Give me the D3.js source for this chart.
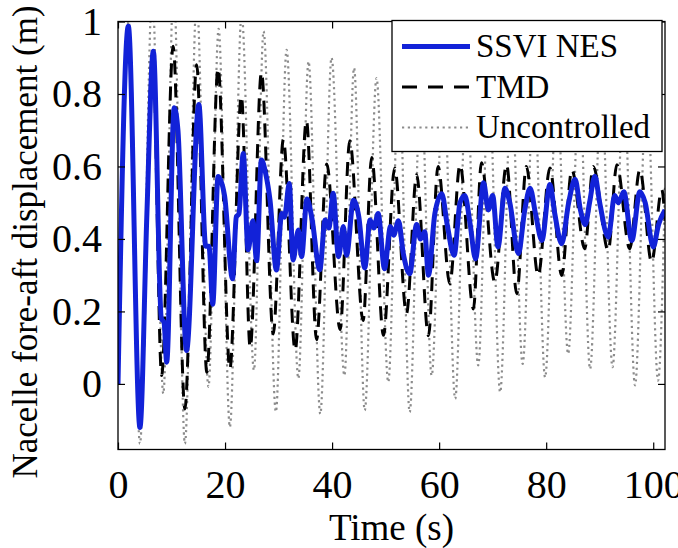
<!DOCTYPE html>
<html>
<head>
<meta charset="utf-8">
<script src="https://cdn.jsdelivr.net/npm/d3@7"></script>
<style>
  body { margin: 0; background: #fff; }
  svg { display: block; }
</style>
</head>
<body>
<div id="chart"></div>
<script>
// values: [time (s), displacement (m)]
const nesData = [
  [0, 0], [1.93, 0.987], [4.1, -0.12], [5.4, 0.47], [6.6, 0.918], [8.1, 0.18], [8.6, 0.17],
  [9.1, 0.06], [10.5, 0.762], [11.2, 0.70], [12.8, 0.092], [15.1, 0.771], [16.4, 0.38],
  [17.0, 0.38], [17.7, 0.22], [18.7, 0.572], [19.9, 0.52], [21.4, 0.29], [22.1, 0.46],
  [22.6, 0.47], [23.4, 0.636], [24.3, 0.37], [25.2, 0.45], [25.9, 0.34], [26.8, 0.618],
  [27.6, 0.58], [28.4, 0.507], [29.6, 0.314], [30.6, 0.47], [31.1, 0.46], [32.0, 0.553],
  [32.7, 0.342], [33.7, 0.425], [34.3, 0.351], [35.3, 0.51], [36.2, 0.46], [37.7, 0.315],
  [38.7, 0.452], [39.4, 0.43], [40.2, 0.526], [41.2, 0.351], [42.1, 0.434], [42.7, 0.355],
  [44.0, 0.507], [45.0, 0.46], [46.1, 0.32], [47.1, 0.452], [47.8, 0.43], [48.6, 0.47],
  [49.8, 0.318], [50.9, 0.434], [51.5, 0.41], [52.4, 0.45], [53.3, 0.36], [54.5, 0.304],
  [55.8, 0.44], [56.5, 0.40], [57.3, 0.42], [58.0, 0.30], [59.2, 0.47], [60.5, 0.525],
  [61.5, 0.44], [62.8, 0.355], [63.9, 0.50], [64.8, 0.52], [65.8, 0.44], [66.8, 0.345],
  [68.3, 0.555], [69.2, 0.48], [70.0, 0.52], [71.0, 0.378], [72.3, 0.54], [73.2, 0.50],
  [74.8, 0.36], [76.0, 0.48], [77.0, 0.54], [78.0, 0.47], [79.2, 0.396], [80.7, 0.55],
  [81.6, 0.47], [82.9, 0.387], [84.2, 0.50], [85.4, 0.565], [86.4, 0.48], [87.3, 0.44],
  [88.1, 0.50], [89.1, 0.573], [90.0, 0.50], [91.6, 0.405], [92.8, 0.52], [93.5, 0.50],
  [94.5, 0.53], [96.0, 0.396], [97.5, 0.53], [98.5, 0.50], [100.0, 0.378], [101.0, 0.44],
  [102.2, 0.48]
];

const tmdData = [
  [0, 0], [2.0, 0.98], [4.1, -0.11], [6.5, 0.92], [8.15, 0.023], [10.3, 0.932], [12.5, -0.069],
  [14.7, 0.881], [16.6, 0.032], [18.7, 0.872], [20.9, 0.041], [23.05, 0.795], [24.7, 0.1],
  [26.8, 0.86], [29.0, 0.138], [30.9, 0.675], [33.1, 0.092], [35.2, 0.727], [37.1, 0.122],
  [39.0, 0.607], [41.5, 0.15], [43.3, 0.671], [45.8, 0.175], [47.4, 0.625], [49.6, 0.134],
  [51.7, 0.596], [53.9, 0.194], [55.8, 0.577], [58.0, 0.133], [59.8, 0.6], [62.0, 0.276],
  [63.9, 0.605], [66.4, 0.207], [67.9, 0.61], [70.4, 0.281], [72.6, 0.605], [74.5, 0.249],
  [76.3, 0.6], [78.5, 0.299], [80.7, 0.596], [82.9, 0.299], [84.8, 0.591], [87.2, 0.373],
  [88.8, 0.6], [91.6, 0.368], [93.2, 0.605], [95.6, 0.373], [97.5, 0.591], [99.7, 0.336],
  [101.6, 0.536], [102.2, 0.45]
];

const uncData = [
  [0, 0], [2.0, 1.0], [4.1, -0.165], [6.4, 1.08], [8.46, -0.027], [10.4, 1.1], [12.5, -0.165],
  [14.7, 1.06], [16.9, -0.008], [18.8, 0.98], [20.9, -0.119], [23.1, 1.02], [25.4, 0.038],
  [27.2, 0.973], [29.5, -0.077], [31.5, 0.922], [33.7, 0.015], [35.6, 0.89], [37.8, -0.083],
  [39.9, 0.90], [42.3, 0.023], [44.1, 0.872], [46.1, -0.073], [48.3, 0.844], [50.5, 0.005],
  [52.5, 0.86], [54.5, -0.078], [56.6, 0.84], [58.6, 0.023], [60.8, 0.85], [63.0, -0.041],
  [65.1, 0.83], [67.3, 0.051], [69.3, 0.84], [71.4, -0.023], [73.5, 0.82], [75.6, 0.055],
  [77.7, 0.83], [79.8, 0.018], [82.0, 0.82], [84.1, 0.083], [86.2, 0.83], [88.2, 0.041],
  [90.3, 0.82], [92.4, 0.046], [94.5, 0.83], [96.6, -0.004], [98.8, 0.84], [100.9, 0.009],
  [102.2, 0.55]
];

const xTicks = [0, 20, 40, 60, 80, 100];
const yTicks = [0, 0.2, 0.4, 0.6, 0.8, 1];
const yTickLabels = ["0", "0.2", "0.4", "0.6", "0.8", "1"];
const seriesNames = ["SSVI NES", "TMD", "Uncontrolled"];

const W = 678, H = 548;
const margin = {top: 21.5, right: 13, bottom: 98.5, left: 118};
const width = W - margin.left - margin.right;
const height = H - margin.top - margin.bottom;
const serif = "'Liberation Serif', 'Times New Roman', serif";

const svg = d3.select("#chart").append("svg")
    .attr("width", W)
    .attr("height", H);

const g = svg.append("g")
    .attr("transform", "translate(" + margin.left + "," + margin.top + ")");

const x = d3.scaleLinear().domain([0, 102.2]).range([0, width]);
const y = d3.scaleLinear().domain([-0.181, 1]).range([height, 0]);

g.append("clipPath").attr("id", "plotclip")
  .append("rect").attr("width", width).attr("height", height);

const line = d3.line()
    .x(d => x(d[0]))
    .y(d => y(d[1]))
    .curve(d3.curveMonotoneX);

const styles = [
  {data: nesData, stroke: "#1222d8", width: 5, dash: null},
  {data: tmdData, stroke: "#000", width: 3, dash: "14,9"},
  {data: uncData, stroke: "#8c8c8c", width: 2.2, dash: "2.2,3.6"}
];

const plot = g.append("g").attr("clip-path", "url(#plotclip)");
plot.selectAll("path")
  .data(styles.slice().reverse())
  .join("path")
    .attr("fill", "none")
    .attr("stroke", d => d.stroke)
    .attr("stroke-width", d => d.width)
    .attr("stroke-dasharray", d => d.dash)
    .attr("stroke-linejoin", "round")
    .attr("d", d => line(d.data));

// axes, ticks pointing inwards (mirrored on top/right)
const axisStyle = sel => {
  sel.select(".domain").remove();
  sel.selectAll(".tick line").attr("stroke", "#000").attr("stroke-width", 1.2);
  sel.selectAll("text").attr("font-family", serif).attr("font-size", 40).attr("fill", "#000");
};

g.append("g")
    .attr("transform", "translate(0," + height + ")")
    .call(d3.axisBottom(x).tickValues(xTicks).tickSizeInner(-7).tickSizeOuter(0).tickPadding(20))
    .call(axisStyle);

g.append("g")
    .call(d3.axisLeft(y).tickValues(yTicks).tickFormat((d, i) => yTickLabels[i])
      .tickSizeInner(-7).tickSizeOuter(0).tickPadding(16))
    .call(axisStyle);

g.append("g")
    .call(d3.axisTop(x).tickValues(xTicks).tickSizeInner(-7).tickSizeOuter(0).tickFormat(""))
    .call(axisStyle);

g.append("g")
    .attr("transform", "translate(" + width + ",0)")
    .call(d3.axisRight(y).tickValues(yTicks).tickSizeInner(-7).tickSizeOuter(0).tickFormat(""))
    .call(axisStyle);

g.append("rect")
    .attr("width", width)
    .attr("height", height)
    .attr("fill", "none")
    .attr("stroke", "#000")
    .attr("stroke-width", 1.3);

// axis titles
g.append("text")
    .attr("x", width / 2)
    .attr("y", height + 90.5)
    .attr("text-anchor", "middle")
    .attr("font-family", serif)
    .attr("font-size", 37)
    .text("Time (s)");

svg.append("text")
    .attr("transform", "translate(37,242) rotate(-90)")
    .attr("text-anchor", "middle")
    .attr("font-family", serif)
    .attr("font-size", 35)
    .text("Nacelle fore-aft displacement (m)");

// legend
const legend = svg.append("g").attr("transform", "translate(392,20.5)");
legend.append("rect")
    .attr("width", 270)
    .attr("height", 131)
    .attr("fill", "#fff")
    .attr("stroke", "#000")
    .attr("stroke-width", 1.3);

const rows = legend.selectAll("g.row")
  .data(styles)
  .join("g")
    .attr("class", "row")
    .attr("transform", (d, i) => "translate(0," + (26 + i * 40.5) + ")");

rows.append("line")
    .attr("x1", 10).attr("x2", 78)
    .attr("stroke", d => d.stroke)
    .attr("stroke-width", d => d.width)
    .attr("stroke-dasharray", (d, i) => i === 1 ? "15,11" : d.dash);

rows.append("text")
    .attr("x", 84)
    .attr("y", 10.5)
    .attr("font-family", serif)
    .attr("font-size", 33)
    .text((d, i) => seriesNames[i]);
</script>
</body>
</html>
